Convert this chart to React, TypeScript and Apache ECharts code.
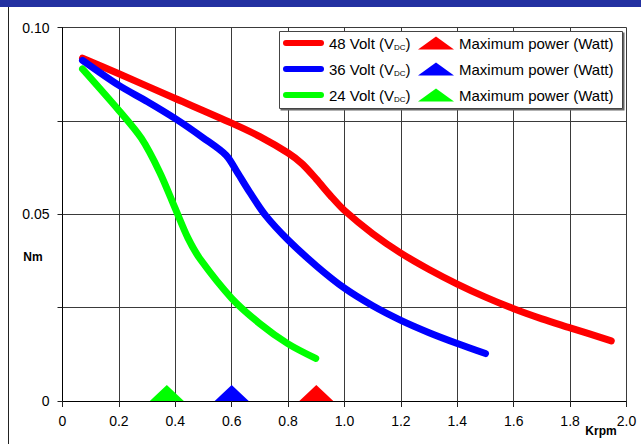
import React, { useEffect, useRef } from 'react';
import * as echarts from 'echarts';

// Torque (Nm) vs speed (Krpm) curves
const torque48: number[][] = [
  [0.071, 0.0918], [0.2, 0.0876], [0.4, 0.0810], [0.6, 0.0744], [0.7, 0.0708],
  [0.8, 0.0664], [0.85, 0.0635], [0.9, 0.0594], [0.95, 0.0550], [1.0, 0.0510],
  [1.1, 0.0448], [1.2, 0.0396], [1.3, 0.0352], [1.4, 0.0313], [1.5, 0.0278],
  [1.6, 0.0247], [1.7, 0.0220], [1.8, 0.0196], [1.946, 0.0161],
];
const torque36: number[][] = [
  [0.071, 0.0912], [0.2, 0.0845], [0.3, 0.0802], [0.4, 0.0756], [0.5, 0.0704],
  [0.58, 0.0658], [0.62, 0.0612], [0.663, 0.0560], [0.72, 0.0497], [0.8, 0.0431],
  [0.9, 0.0362], [1.0, 0.0302], [1.1, 0.0255], [1.2, 0.0216], [1.3, 0.0183],
  [1.4, 0.0154], [1.5, 0.0127],
];
const torque24: number[][] = [
  [0.071, 0.0889], [0.2, 0.0778], [0.28, 0.0703], [0.345, 0.0612], [0.4, 0.0515],
  [0.445, 0.0436], [0.49, 0.0378], [0.6, 0.0275], [0.7, 0.0207], [0.8, 0.0153],
  [0.898, 0.0114],
];
const maxPowerKrpm: number[] = [0.9, 0.6, 0.37];

const voltageNames = ['48 Volt (VDC)', '36 Volt (VDC)', '24 Volt (VDC)'];
const maxPowerNames = ['Maximum power (Watt) 48', 'Maximum power (Watt) 36', 'Maximum power (Watt) 24'];
const colors = ['#ff0000', '#0000ff', '#00ff00'];
const xAxisTitle = 'Krpm';
const yAxisTitle = 'Nm';

const FONT = '"Liberation Sans", Arial, Helvetica, sans-serif';

export default function App() {
  const ref = useRef<HTMLDivElement>(null);
  useEffect(() => {
    document.body.style.margin = '0';
    if (!ref.current) return;
    const chart = echarts.init(ref.current, null, { renderer: 'svg' });
    const curves = [torque48, torque36, torque24];
    const lineSeries = curves.map((d, i) => ({
      type: 'line',
      name: voltageNames[i],
      data: d,
      smooth: 0.3,
      showSymbol: false,
      symbol: 'none',
      lineStyle: { color: colors[i], width: 7, cap: 'round', join: 'round' },
      itemStyle: { color: colors[i] },
      z: 3,
    }));
    const markerSeries = maxPowerKrpm.map((x, i) => ({
      type: 'scatter',
      name: maxPowerNames[i],
      data: [[x, 0]],
      symbol: 'triangle',
      symbolSize: [34, 16],
      symbolOffset: [0, -8],
      itemStyle: { color: colors[i], opacity: 1 },
      clip: false,
      z: 4,
    }));
    const option: any = {
      animation: false,
      backgroundColor: '#ffffff',
      textStyle: { fontFamily: FONT },
      grid: { left: 62.5, top: 27.5, width: 564, height: 373.5 },
      xAxis: {
        type: 'value',
        min: 0,
        max: 2,
        interval: 0.2,
        axisLine: { lineStyle: { color: '#000', width: 1 } },
        axisTick: { show: true, length: 6, lineStyle: { color: '#222' } },
        axisLabel: {
          fontSize: 14, color: '#000', margin: 13, fontFamily: FONT,
          formatter: (v: number) => (Math.abs(v) < 1e-9 ? '0' : v.toFixed(1)),
        },
        splitLine: { show: true, lineStyle: { color: '#3a3a3a', width: 1 } },
      },
      yAxis: {
        type: 'value',
        min: 0,
        max: 0.1,
        interval: 0.025,
        axisLine: { show: true, lineStyle: { color: '#000', width: 1 } },
        axisTick: { show: true, length: 5, lineStyle: { color: '#222' } },
        axisLabel: {
          fontSize: 14, color: '#000', margin: 13, fontFamily: FONT,
          formatter: (v: number) => {
            const r = Math.round(v * 1000);
            if (r % 50 !== 0) return '';
            if (r === 0) return '0';
            return v.toFixed(2);
          },
        },
        splitLine: { show: true, lineStyle: { color: '#3a3a3a', width: 1 } },
      },
      legend: [
        {
          orient: 'vertical',
          left: 283,
          top: 35,
          padding: 0,
          itemGap: 10,
          itemWidth: 41,
          itemHeight: 6,
          selectedMode: false,
          z: 6,
          data: voltageNames.map((n) => ({
            name: n,
            icon: 'path://M3,0 L38,0 A3,3 0 0 1 38,6 L3,6 A3,3 0 0 1 3,0 Z',
          })),
          formatter: (name: string) => name.replace('(VDC)', '(V{sub|DC})'),
          textStyle: {
            fontFamily: FONT, fontSize: 15, color: '#000', lineHeight: 16,
            rich: {
              sub: { fontFamily: FONT, fontSize: 8, color: '#000', lineHeight: 16, verticalAlign: 'bottom' },
            },
          },
        },
        {
          orient: 'vertical',
          left: 418,
          top: 35,
          padding: 0,
          itemGap: 10,
          itemWidth: 36,
          itemHeight: 13,
          selectedMode: false,
          z: 6,
          data: maxPowerNames.map((n) => ({ name: n, icon: 'path://M18,0 L36,13 L0,13 Z' })),
          formatter: () => 'Maximum power (Watt)',
          textStyle: { fontFamily: FONT, fontSize: 15, color: '#000', lineHeight: 16 },
        },
      ],
      graphic: [
        { type: 'rect', shape: { x: 0, y: 0, width: 641, height: 7 }, style: { fill: '#2331a1' }, z: 10 },
        { type: 'line', shape: { x1: 8.5, y1: 7, x2: 8.5, y2: 444 }, style: { stroke: '#222', lineWidth: 1 }, z: 10 },
        { type: 'rect', shape: { x: 280.5, y: 32.5, width: 344, height: 78 }, style: { fill: '#666' }, z: 4 },
        { type: 'rect', shape: { x: 279.5, y: 31.5, width: 343, height: 77 }, style: { fill: '#fff', stroke: '#444', lineWidth: 1 }, z: 5 },
        {
          type: 'text', x: 33, y: 257, z: 10,
          style: { text: yAxisTitle, fontFamily: FONT, fontWeight: 'bold', fontSize: 12, fill: '#000', align: 'center', verticalAlign: 'middle' },
        },
        {
          type: 'text', x: 601, y: 431, z: 10,
          style: { text: xAxisTitle, fontFamily: FONT, fontWeight: 'bold', fontSize: 12, fill: '#000', align: 'center', verticalAlign: 'middle' },
        },
      ],
      series: [...lineSeries, ...markerSeries],
    };
    chart.setOption(option);
    return () => chart.dispose();
  }, []);
  return <div ref={ref} style={{ width: 641, height: 444 }} />;
}
